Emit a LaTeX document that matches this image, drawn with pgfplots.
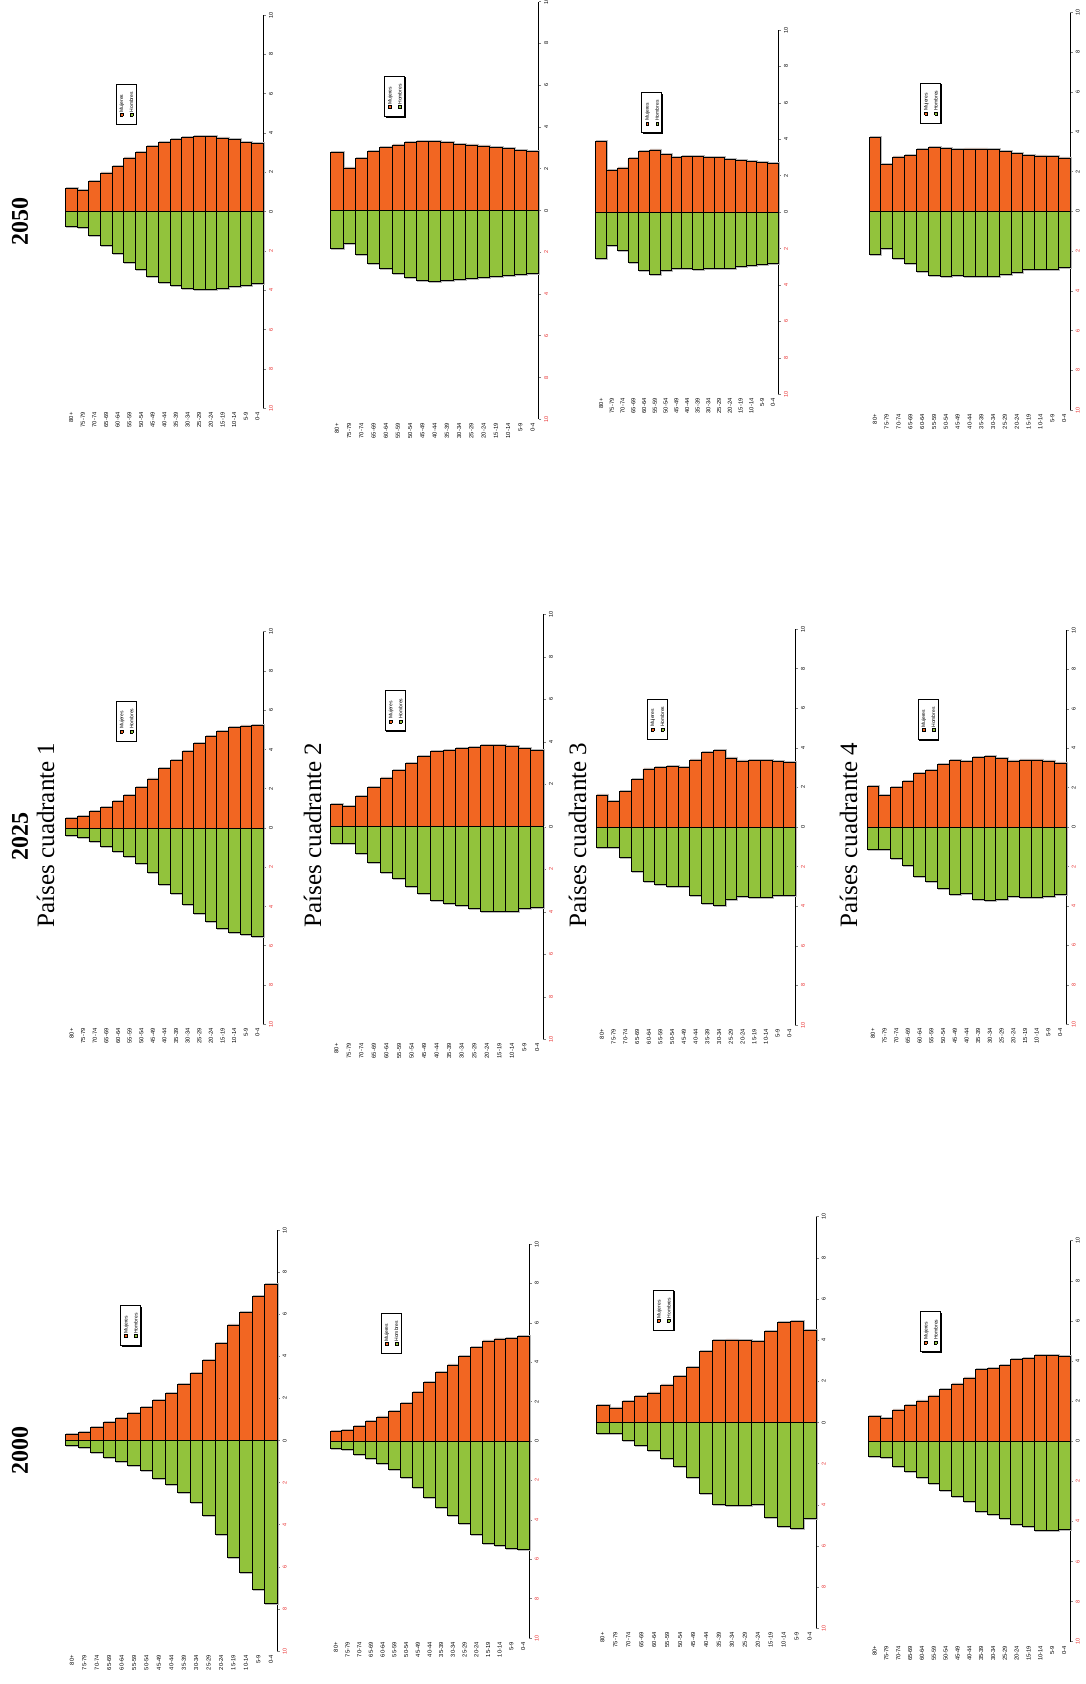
\documentclass[border=0pt]{standalone}
\usepackage{pgfplots}
\pgfplotsset{compat=1.18}
\usepackage{pgfplotstable}
\usepackage{fontspec}
\setmainfont{Liberation Sans}
\newfontfamily\serifti{Liberation Serif}
\usetikzlibrary{shadows}
\definecolor{muj}{RGB}{242,102,34}
\definecolor{hom}{RGB}{146,195,60}
\definecolor{tickred}{RGB}{232,45,45}

\pgfplotsset{pyr/.style={
  scale only axis, xmin=-0.5, xmax=16.5, ymin=-10, ymax=10,
  axis y line*=right, axis x line*=bottom,
  x axis line style={draw=none},
  y axis line style={line width=0.8pt},
  xtick={0,...,16},
  xticklabels={80+,75-79,70-74,65-69,60-64,55-59,50-54,45-49,40-44,35-39,30-34,25-29,20-24,15-19,10-14,5-9,0-4},
  xtick style={draw=none},
  xticklabel style={rotate=90, anchor=east, font=\fontsize{5.8}{6}\selectfont, inner sep=1.5pt},
  ytick={-10,-8,...,10},
  yticklabels={{\textcolor{tickred}{10}},{\textcolor{tickred}{8}},{\textcolor{tickred}{6}},{\textcolor{tickred}{4}},{\textcolor{tickred}{2}},0,2,4,6,8,10},
  yticklabel style={rotate=90, anchor=north, font=\fontsize{5.5}{6}\selectfont, inner sep=3pt},
  tick align=outside, major tick length=2.5pt,
  ytick style={line width=0.6pt},
  ybar, bar width=1,
  clip=false,
}}

\newcommand{\sq}[1]{\raisebox{0.3pt}{\fcolorbox{black}{#1}{\rule{0pt}{2.6pt}\hspace{2.6pt}}}}

\newcommand{\pyr}[5]{%
\begin{axis}[pyr, at={(#1pt,-#2pt)}, anchor=south west, width=#3pt, height=#4pt]
\addplot[fill=gray!55, draw=gray!55, line width=0.7pt, bar shift=0pt, xshift=1pt, yshift=1pt, forget plot] table[x=x,y=W]{#5};
\addplot[fill=gray!55, draw=gray!55, line width=0.7pt, bar shift=0pt, xshift=1pt, yshift=-1pt, forget plot] table[x=x,y=M]{#5};
\addplot[fill=muj, draw=black, line width=0.7pt, bar shift=0pt] table[x=x,y=W]{#5};
\addplot[fill=hom, draw=black, line width=0.7pt, bar shift=0pt] table[x=x,y=M]{#5};
\node[rotate=90, draw=black, line width=0.6pt, fill=white, inner sep=0pt,
  minimum width=40pt, minimum height=20pt, font=\fontsize{5}{10}\selectfont,
  drop shadow={shadow xshift=1pt, shadow yshift=-1pt, fill=black, opacity=1}]
  at (axis description cs:0.307,0.773)
  {\setlength\fboxsep{0pt}\setlength\fboxrule{0.35pt}\begin{tabular}{@{}l@{}}\sq{muj}\,Mujeres\\ \sq{hom}\,Hombres\end{tabular}};
\end{axis}}

% 2000
\pgfplotstableread{
x W M
0 0.27 -0.21
1 0.40 -0.33
2 0.63 -0.56
3 0.87 -0.79
4 1.06 -1.00
5 1.27 -1.19
6 1.58 -1.44
7 1.91 -1.79
8 2.22 -2.08
9 2.67 -2.46
10 3.20 -2.94
11 3.81 -3.54
12 4.60 -4.44
13 5.49 -5.56
14 6.09 -6.27
15 6.84 -7.08
16 7.42 -7.75
}\tabA
\pgfplotstableread{
x W M
0 0.49 -0.37
1 0.52 -0.42
2 0.74 -0.66
3 0.98 -0.88
4 1.22 -1.13
5 1.51 -1.42
6 1.91 -1.84
7 2.47 -2.36
8 2.96 -2.85
9 3.49 -3.36
10 3.86 -3.75
11 4.30 -4.19
12 4.75 -4.75
13 5.08 -5.19
14 5.18 -5.32
15 5.21 -5.44
16 5.30 -5.52
}\tabB
\pgfplotstableread{
x W M
0 0.81 -0.52
1 0.71 -0.55
2 1.04 -0.88
3 1.28 -1.09
4 1.44 -1.33
5 1.83 -1.73
6 2.22 -2.14
7 2.69 -2.67
8 3.45 -3.44
9 3.98 -3.99
10 4.01 -4.02
11 3.98 -4.04
12 3.92 -4.00
13 4.43 -4.60
14 4.87 -5.06
15 4.92 -5.14
16 4.48 -4.68
}\tabC
\pgfplotstableread{
x W M
0 1.23 -0.75
1 1.15 -0.81
2 1.56 -1.23
3 1.78 -1.51
4 2.01 -1.81
5 2.26 -2.11
6 2.58 -2.44
7 2.86 -2.74
8 3.16 -3.02
9 3.58 -3.52
10 3.61 -3.64
11 3.78 -3.85
12 4.08 -4.15
13 4.11 -4.27
14 4.28 -4.47
15 4.28 -4.44
16 4.23 -4.40
}\tabD
% 2025
\pgfplotstableread{
x W M
0 0.51 -0.39
1 0.58 -0.48
2 0.85 -0.70
3 1.07 -0.92
4 1.36 -1.17
5 1.68 -1.46
6 2.07 -1.82
7 2.50 -2.26
8 3.04 -2.87
9 3.46 -3.34
10 3.92 -3.89
11 4.30 -4.35
12 4.67 -4.77
13 4.91 -5.13
14 5.13 -5.31
15 5.20 -5.42
16 5.23 -5.50
}\tabE
\pgfplotstableread{
x W M
0 1.05 -0.77
1 0.96 -0.78
2 1.43 -1.24
3 1.87 -1.65
4 2.30 -2.14
5 2.66 -2.43
6 2.99 -2.79
7 3.31 -3.12
8 3.54 -3.44
9 3.61 -3.58
10 3.68 -3.70
11 3.75 -3.86
12 3.84 -4.00
13 3.84 -4.00
14 3.78 -3.96
15 3.68 -3.86
16 3.61 -3.81
}\tabF
\pgfplotstableread{
x W M
0 1.62 -1.02
1 1.30 -1.02
2 1.79 -1.53
3 2.42 -2.22
4 2.93 -2.75
5 2.99 -2.90
6 3.04 -2.98
7 2.99 -2.98
8 3.39 -3.44
9 3.76 -3.86
10 3.85 -3.98
11 3.49 -3.66
12 3.34 -3.51
13 3.38 -3.54
14 3.38 -3.54
15 3.33 -3.47
16 3.26 -3.44
}\tabG
\pgfplotstableread{
x W M
0 2.07 -1.11
1 1.63 -1.11
2 2.00 -1.56
3 2.30 -1.92
4 2.72 -2.48
5 2.89 -2.77
6 3.18 -3.08
7 3.38 -3.40
8 3.33 -3.37
9 3.53 -3.66
10 3.58 -3.69
11 3.48 -3.66
12 3.36 -3.52
13 3.41 -3.55
14 3.41 -3.55
15 3.36 -3.49
16 3.26 -3.40
}\tabH
% 2050
\pgfplotstableread{
x W M
0 1.20 -0.76
1 1.08 -0.81
2 1.53 -1.20
3 1.97 -1.73
4 2.32 -2.12
5 2.73 -2.56
6 3.03 -2.92
7 3.32 -3.29
8 3.54 -3.58
9 3.69 -3.76
10 3.78 -3.90
11 3.81 -3.97
12 3.81 -3.97
13 3.75 -3.92
14 3.66 -3.81
15 3.54 -3.75
16 3.46 -3.64
}\tabI
\pgfplotstableread{
x W M
0 2.80 -1.82
1 2.04 -1.57
2 2.48 -2.08
3 2.83 -2.51
4 3.01 -2.77
5 3.14 -3.02
6 3.25 -3.20
7 3.31 -3.34
8 3.31 -3.39
9 3.25 -3.36
10 3.17 -3.28
11 3.14 -3.25
12 3.09 -3.22
13 3.03 -3.17
14 2.96 -3.10
15 2.88 -3.04
16 2.83 -2.99
}\tabJ
\pgfplotstableread{
x W M
0 3.88 -2.51
1 2.27 -1.83
2 2.43 -2.12
3 2.93 -2.73
4 3.33 -3.22
5 3.42 -3.44
6 3.18 -3.21
7 3.02 -3.10
8 3.05 -3.10
9 3.05 -3.15
10 3.02 -3.11
11 3.00 -3.10
12 2.91 -3.06
13 2.83 -2.97
14 2.78 -2.91
15 2.74 -2.86
16 2.69 -2.80
}\tabK
\pgfplotstableread{
x W M
0 3.71 -2.18
1 2.35 -1.84
2 2.74 -2.35
3 2.82 -2.63
4 3.11 -3.02
5 3.21 -3.22
6 3.18 -3.25
7 3.13 -3.22
8 3.14 -3.27
9 3.14 -3.28
10 3.11 -3.25
11 3.01 -3.18
12 2.91 -3.08
13 2.81 -2.93
14 2.79 -2.91
15 2.76 -2.90
16 2.69 -2.83
}\tabL

\begin{document}
\begin{tikzpicture}[x=1pt,y=1pt]
\path[use as bounding box] (0,0) rectangle (1085,-1684);
% row 2000
\pyr{65.7}{1651}{211.3}{421}{\tabA}
\pyr{330}{1638}{199}{394}{\tabB}
\pyr{596}{1628.3}{220}{411.6}{\tabC}
\pyr{868.7}{1641.7}{201.3}{401}{\tabD}
% row 2025
\pyr{65.7}{1024.3}{197.6}{392.6}{\tabE}
\pyr{330}{1039.3}{213.3}{425}{\tabF}
\pyr{596}{1025}{199.3}{396}{\tabG}
\pyr{867}{1024.3}{199}{394.3}{\tabH}
% row 2050
\pyr{65.3}{408.3}{198}{393.3}{\tabI}
\pyr{330.7}{419.3}{208}{417.6}{\tabJ}
\pyr{595.7}{394.3}{182.6}{364.3}{\tabK}
\pyr{869}{410}{201}{397.3}{\tabL}
% titles
\node[rotate=90, font=\serifti\bfseries\fontsize{24}{24}\selectfont] at (20,-221.5) {2050};
\node[rotate=90, font=\serifti\bfseries\fontsize{24}{24}\selectfont] at (20,-836.7) {2025};
\node[rotate=90, font=\serifti\bfseries\fontsize{24}{24}\selectfont] at (20,-1450) {2000};
\node[rotate=90, font=\serifti\fontsize{25}{25}\selectfont] at (45.5,-835) {Países cuadrante 1};
\node[rotate=90, font=\serifti\fontsize{25}{25}\selectfont] at (312.5,-835) {Países cuadrante 2};
\node[rotate=90, font=\serifti\fontsize{25}{25}\selectfont] at (577.5,-835) {Países cuadrante 3};
\node[rotate=90, font=\serifti\fontsize{25}{25}\selectfont] at (848.5,-835) {Países cuadrante 4};
\end{tikzpicture}
\end{document}
